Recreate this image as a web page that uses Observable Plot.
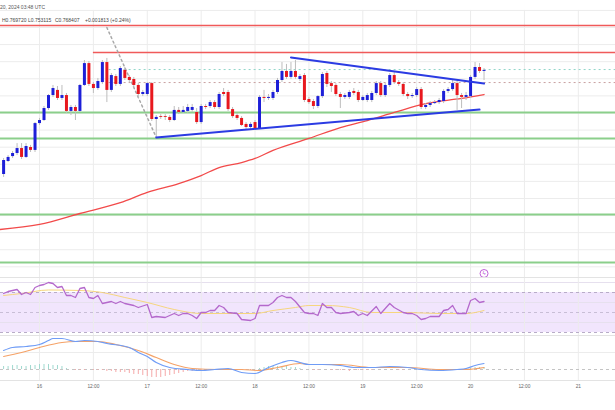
<!DOCTYPE html>
<html><head><meta charset="utf-8">
<script src="https://cdn.jsdelivr.net/npm/d3@7"></script>
<script src="https://cdn.jsdelivr.net/npm/@observablehq/plot@0.6"></script>
<style>
body{margin:0;background:#fff;}
#wrap{position:relative;width:615px;height:410px;overflow:hidden;font-family:"Liberation Sans",Arial,sans-serif;background:#fff;}
.pane{position:absolute;left:0;}
.hdr{position:absolute;left:0;font-size:5px;color:#555;white-space:pre;}
.sep{position:absolute;left:0;width:615px;height:1px;background:#e3e3e3;}
</style></head><body><div id="wrap"></div>
<script>
// ---- hourly candles, hour index 0 = Nov 15 16:00 UTC ----
const open=[0.7082,0.7158,0.7187,0.7205,0.7234,0.7182,0.7240,0.7223,0.7380,0.7398,
0.7468,0.7544,0.7574,0.7527,0.7544,0.7451,0.7474,0.7451,0.7603,0.7731,
0.7609,0.7585,0.7620,0.7737,0.7574,0.7655,0.7609,0.7691,0.7650,0.7638,
0.7603,0.7550,0.7550,0.7614,0.7404,0.7421,0.7421,0.7416,0.7398,0.7457,
0.7445,0.7451,0.7457,0.7445,0.7386,0.7480,0.7480,0.7503,0.7474,0.7562,
0.7562,0.7462,0.7427,0.7410,0.7375,0.7357,0.7386,0.7351,0.7533,0.7527,
0.7527,0.7562,0.7632,0.7685,0.7650,0.7685,0.7638,0.7661,0.7521,0.7509,
0.7480,0.7538,0.7673,0.7614,0.7603,0.7550,0.7533,0.7533,0.7568,0.7562,
0.7515,0.7515,0.7515,0.7556,0.7614,0.7544,0.7603,0.7661,0.7620,0.7609,
0.7550,0.7538,0.7544,0.7579,0.7474,0.7486,0.7497,0.7503,0.7509,0.7568,
0.7579,0.7614,0.7544,0.7533,0.7538,0.7650,0.7708,0.7685];
const high=[0.7176,0.7193,0.7217,0.7263,0.7263,0.7263,0.7252,0.7386,0.7410,0.7480,
0.7550,0.7603,0.7597,0.7603,0.7556,0.7486,0.7486,0.7609,0.7749,0.7743,
0.7620,0.7644,0.7749,0.7761,0.7673,0.7667,0.7714,0.7708,0.7661,0.7650,
0.7614,0.7574,0.7620,0.7620,0.7427,0.7433,0.7433,0.7427,0.7480,0.7474,
0.7480,0.7492,0.7492,0.7468,0.7492,0.7492,0.7515,0.7515,0.7562,0.7585,
0.7574,0.7474,0.7439,0.7421,0.7386,0.7386,0.7398,0.7544,0.7574,0.7550,
0.7574,0.7644,0.7737,0.7726,0.7737,0.7749,0.7667,0.7673,0.7533,0.7521,
0.7544,0.7679,0.7685,0.7626,0.7614,0.7562,0.7556,0.7574,0.7585,0.7574,
0.7544,0.7556,0.7568,0.7626,0.7626,0.7614,0.7673,0.7679,0.7632,0.7620,
0.7562,0.7556,0.7591,0.7591,0.7497,0.7509,0.7515,0.7527,0.7579,0.7591,
0.7632,0.7626,0.7556,0.7562,0.7661,0.7737,0.7731,0.7702];
const low=[0.7065,0.7152,0.7176,0.7193,0.7170,0.7176,0.7211,0.7211,0.7369,0.7392,
0.7457,0.7533,0.7515,0.7515,0.7439,0.7427,0.7398,0.7445,0.7597,0.7597,
0.7556,0.7574,0.7609,0.7503,0.7562,0.7597,0.7597,0.7632,0.7620,0.7585,
0.7527,0.7538,0.7538,0.7392,0.7299,0.7404,0.7398,0.7386,0.7392,0.7433,
0.7439,0.7439,0.7445,0.7375,0.7375,0.7462,0.7468,0.7462,0.7462,0.7538,
0.7451,0.7410,0.7398,0.7363,0.7345,0.7345,0.7345,0.7345,0.7503,0.7515,
0.7515,0.7550,0.7620,0.7638,0.7638,0.7638,0.7626,0.7503,0.7492,0.7462,
0.7468,0.7527,0.7591,0.7562,0.7538,0.7468,0.7521,0.7521,0.7544,0.7503,
0.7509,0.7503,0.7503,0.7544,0.7533,0.7533,0.7591,0.7609,0.7597,0.7538,
0.7521,0.7527,0.7533,0.7462,0.7462,0.7474,0.7492,0.7492,0.7497,0.7556,
0.7568,0.7457,0.7468,0.7515,0.7527,0.7638,0.7673,0.7632];
const close=[0.7164,0.7182,0.7205,0.7234,0.7182,0.7246,0.7223,0.7380,0.7398,0.7468,
0.7544,0.7585,0.7527,0.7544,0.7451,0.7474,0.7451,0.7603,0.7731,0.7609,
0.7585,0.7626,0.7737,0.7574,0.7661,0.7609,0.7702,0.7644,0.7632,0.7603,
0.7550,0.7562,0.7614,0.7404,0.7416,0.7416,0.7416,0.7398,0.7457,0.7445,
0.7457,0.7474,0.7474,0.7386,0.7480,0.7474,0.7503,0.7474,0.7550,0.7550,
0.7462,0.7421,0.7410,0.7369,0.7357,0.7375,0.7351,0.7533,0.7527,0.7533,
0.7562,0.7632,0.7685,0.7650,0.7685,0.7650,0.7655,0.7515,0.7503,0.7480,
0.7538,0.7667,0.7609,0.7597,0.7550,0.7533,0.7544,0.7562,0.7556,0.7515,
0.7533,0.7544,0.7556,0.7614,0.7544,0.7603,0.7661,0.7620,0.7609,0.7550,
0.7538,0.7544,0.7579,0.7474,0.7486,0.7497,0.7503,0.7515,0.7568,0.7579,
0.7614,0.7544,0.7533,0.7544,0.7650,0.7708,0.7685,0.7691];

// 100-period moving average (read points)
const maT=[-1,8,17,26,32,39,44,48,53,56,60,68,75,81,87,94,102,107];
const maP=[0.6760,0.6790,0.6854,0.6918,0.6977,0.7029,0.7076,0.7123,0.7152,0.7176,0.7223,0.7293,0.7357,0.7398,0.7445,0.7497,0.7527,0.7550];

// drawn levels and lines
const priceGrid=[0.8042,0.7942,0.7842,0.7742,0.7642,0.7542,0.7442,0.7342,0.7242,0.7142,0.7042,0.6942,0.6842,0.6742,0.6642,0.6542];
const supportLevels=[0.7445,0.7293,0.6848,0.6567];
const topResistance=0.7954;
const resistance=0.7796, resistanceFrom=20;
const dottedLevels=[0.7696,0.7620], dottedFrom=23.5;
const fibT=[23,34], fibP=[0.7942,0.7299];
const lowLineT=[34,106], lowLineP=[0.7299,0.7462];
const upLineT=[64,107], upLineP=[0.7767,0.7614];
const eventT=[107], eventP=[0.6503];

// RSI(14) and its moving average
const rsiT=[0,1,3,4,5,6,7,8,9,10,11,12,13,14,15,16,17,18,19,20,21,22,24,25,26,27,29,30,32,33,34,36,38,39,40,41,42,43,44,45,46,47,48,49,50,52,53,55,56,57,59,60,61,62,63,64,65,67,68,69,70,71,72,73,74,75,77,78,79,80,81,83,84,86,87,89,90,91,92,93,94,95,97,98,99,100,101,102,103,104,105,106,107];
const rsiV=[69,71,73,68,70,68,75,77,78,80,79,75,76,67,67,65,74,75,65,64,67,59,61,59,61,59,57,55,58,45,46,45,49,47,49,49,47,44,50,50,52,52,57,55,50,49,43,42,44,57,57,60,65,67,65,65,61,50,49,49,47,59,55,55,50,49,50,51,47,49,47,56,49,59,55,50,49,49,47,43,44,46,46,52,53,57,49,49,49,62,64,60,61];
const rsiMaT=[0,4,10,17,22,27,32,38,44,51,56,60,65,68,72,77,82,90,97,103,107];
const rsiMaV=[67,69,72.5,72,70,65,60,53,49,49,49,52,55,57,57,55,50,50,49,49,52];
const rsiBand=[30,70], rsiMid=50, rsiGrid=[80,60,40];

// MACD
const macdT=[0,2,5,8,10,11,13,16,18,21,23,28,30,32,34,37,41,44,47,50,53,56,59,62,64,66,68,71,75,78,82,86,90,93,97,101,103,105,107];
const macdV=[0.0038,0.0044,0.0046,0.0050,0.0058,0.0062,0.0062,0.0056,0.0058,0.0056,0.0052,0.0044,0.0034,0.0026,0.0014,0.0004,0,-0.0002,0,0.0002,-0.0006,-0.0008,0.0004,0.0014,0.0018,0.0014,0.0010,0.0010,0.0008,0.0004,0.0004,0.0006,0.0004,0,-0.0002,0,0.0002,0.0008,0.0012];
const signalT=[0,4,8,13,16,21,25,30,34,38,42,48,53,57,61,66,68,75,82,90,97,103,107];
const signalV=[0.0026,0.0034,0.0044,0.0054,0.0056,0.0056,0.0050,0.0038,0.0024,0.0010,0.0002,0,0,-0.0002,0.0004,0.0012,0.0010,0.0010,0.0004,0.0004,0,0,0.0004];
const histV=[0.0006,0.0006,0.0008,0.0008,0.0006,0.0006,0.0008,0.0008,0.001,0.001,0.001,0.0008,0.0008,0.0006,
0.0002,0,-0.0002,
-0.0002,-0.0002,0,-0.0002,-0.0002,-0.0002,
-0.0004,-0.0004,-0.0006,-0.0006,-0.0006,
-0.0008,-0.001,-0.001,-0.0012,-0.0014,-0.0016,-0.0016,-0.0016,-0.0014,
-0.0012,-0.001,-0.0008,-0.0006,-0.0004,-0.0004,
-0.0002,-0.0002,0,0,0,0,0,-0.0002,-0.0002,-0.0002,
-0.0002,-0.0002,-0.0002,0,0.0002,
0.0004,0.0006,0.0006,0.0006,0.0006,0.0006,0.0004,0.0004,
0.0002,0,0,-0.0002,-0.0002,0,0,-0.0002,-0.0002,-0.0002,
-0.0002,-0.0004,-0.0002,-0.0002,-0.0002,-0.0002,-0.0002,0,0,0,0,0,-0.0002,-0.0002,0,
0,0,-0.0002,-0.0002,-0.0002,0,0,0,0,0,
0,0,0.0002,0.0002,0.0004,0.0004,0.0004];

// time axis
const tickHours=[8,20,32,44,56,68,80,92,104,116,128];
const tickLabels=["16","12:00","17","12:00","18","12:00","19","12:00","20","12:00","21"];

const headerDate="20, 2024 03:48 UTC";
const headerVals=["H0.769720","L0.753115","C0.768407","+0.001813 (+0.24%)"];

// ---- build ----
const W=615, xDom=[-0.69,136.28];
const UP="#1d1fd8", DOWN="#e8181e", GRID="#ececec";
const candles=open.map((o,i)=>({t:i,o,h:high[i],l:low[i],c:close[i]}));
const pts=(T,V)=>T.map((t,i)=>({t,v:V[i]}));
const ma=pts(maT,maP), fib=pts(fibT,fibP), lowLine=pts(lowLineT,lowLineP), upLine=pts(upLineT,upLineP), ev=pts(eventT,eventP);
const rsi=pts(rsiT,rsiV), rsiMa=pts(rsiMaT,rsiMaV), macd=pts(macdT,macdV), signal=pts(signalT,signalV);
const hist=histV.map((v,i)=>({t:i,v}));
const yMain=[0.64796,0.81];
const common={width:W,marginTop:0,marginLeft:0,marginRight:0,marginBottom:0,x:{domain:xDom,axis:null},color:{type:"identity"},style:{background:"transparent",fontFamily:"Liberation Sans, Arial, sans-serif",overflow:"visible"}};

const mainPlot=Plot.plot({...common,height:277,
  y:{domain:yMain,axis:null},
  marks:[
    Plot.ruleY(priceGrid,{stroke:GRID}),
    Plot.ruleX(tickHours,{y1:priceGrid[0],y2:yMain[0],stroke:GRID}),
    Plot.ruleY(supportLevels,{stroke:"#8bcf8b",strokeWidth:2}),
    Plot.ruleY([topResistance],{stroke:"#f05a5a",strokeWidth:1.5}),
    Plot.ruleY([resistance],{x1:resistanceFrom,x2:xDom[1],stroke:"#f05a5a",strokeWidth:1.5}),
    Plot.ruleY([dottedLevels[0]],{x1:dottedFrom,x2:xDom[1],stroke:"#8fd6c8",strokeDasharray:"2,3"}),
    Plot.ruleY([dottedLevels[1]],{x1:dottedFrom,x2:xDom[1],stroke:"#c8a0a0",strokeDasharray:"2,3"}),
    Plot.line(fib,{x:"t",y:"v",stroke:"#a8a8a8",strokeDasharray:"2,3"}),
    Plot.line(ma,{x:"t",y:"v",stroke:"#f24a4a",strokeWidth:1.3,curve:"monotone-x"}),
    Plot.ruleX(candles,{x:"t",y1:"l",y2:"h",stroke:"#bdbdbd",strokeWidth:1}),
    Plot.ruleX(candles,{x:"t",y1:"o",y2:"c",stroke:d=>d.c>=d.o?UP:DOWN,strokeWidth:3}),
    Plot.line(lowLine,{x:"t",y:"v",stroke:"#2b3be3",strokeWidth:2}),
    Plot.line(upLine,{x:"t",y:"v",stroke:"#2b3be3",strokeWidth:2}),
    Plot.dot(ev,{x:"t",y:"v",r:4,stroke:"#c060d8",fill:"white",strokeWidth:1}),
    Plot.text(ev,{x:"t",y:"v",text:()=>"ϟ",fill:"#c060d8",fontSize:6})
  ]});

const rsiPlot=Plot.plot({...common,height:58,
  y:{domain:[27,85],axis:null},
  marks:[
    Plot.rect([rsiBand],{x1:xDom[0],x2:xDom[1],y1:d=>d[0],y2:d=>d[1],fill:"#f1e5fd"}),
    Plot.ruleY(rsiGrid,{stroke:"#e6e0ee"}),
    Plot.ruleX(tickHours,{stroke:GRID}),
    Plot.ruleY(rsiBand,{stroke:"#b8acc8",strokeDasharray:"3,3"}),
    Plot.ruleY([rsiMid],{stroke:"#c8bed6",strokeDasharray:"3,3"}),
    Plot.line(rsiMa,{x:"t",y:"v",stroke:"#f6d67e",strokeWidth:1,curve:"monotone-x"}),
    Plot.line(rsi,{x:"t",y:"v",stroke:"#b468cc",strokeWidth:1.3})
  ]});

const yMacd=[-0.0022,0.0068];
const macdPlot=Plot.plot({...common,height:75,marginBottom:30,
  y:{domain:yMacd,axis:null},
  marks:[
    Plot.ruleX(tickHours,{y1:yMacd[0],y2:yMacd[1],stroke:GRID}),
    Plot.ruleY([0.0034],{stroke:GRID}),
    Plot.ruleY([0],{stroke:"#c4c4c4",strokeDasharray:"3,3"}),
    Plot.ruleX(hist,{x:"t",y1:0,y2:"v",stroke:d=>d.v>=0?"#9fd9cf":"#f5a9a9",strokeWidth:1}),
    Plot.line(signal,{x:"t",y:"v",stroke:"#f5a267",strokeWidth:1.2,curve:"monotone-x"}),
    Plot.line(macd,{x:"t",y:"v",stroke:"#6f9cf6",strokeWidth:1.2,curve:"monotone-x"}),
    Plot.text(tickHours,{x:d=>d,y:yMacd[0],dy:6,text:(d,i)=>tickLabels[i],fontSize:4.8,fill:"#666"})
  ]});

const wrap=document.getElementById("wrap");
function place(node,top){const d=document.createElement("div");d.className="pane";d.style.top=top+"px";d.appendChild(node);wrap.appendChild(d);}
place(mainPlot,0); place(rsiPlot,277); place(macdPlot,335);
[277,335,380].forEach(t=>{const s=document.createElement("div");s.className="sep";s.style.top=t+"px";wrap.appendChild(s);});
const h1=document.createElement("div");h1.className="hdr";h1.style.top="4px";h1.style.left="0px";h1.textContent=headerDate;wrap.appendChild(h1);
const lefts=[2,28,55,85];
headerVals.forEach((s,i)=>{const h=document.createElement("div");h.className="hdr";h.style.top="17px";h.style.left=lefts[i]+"px";h.style.color="#444";h.textContent=s;wrap.appendChild(h);});
</script></body></html>
